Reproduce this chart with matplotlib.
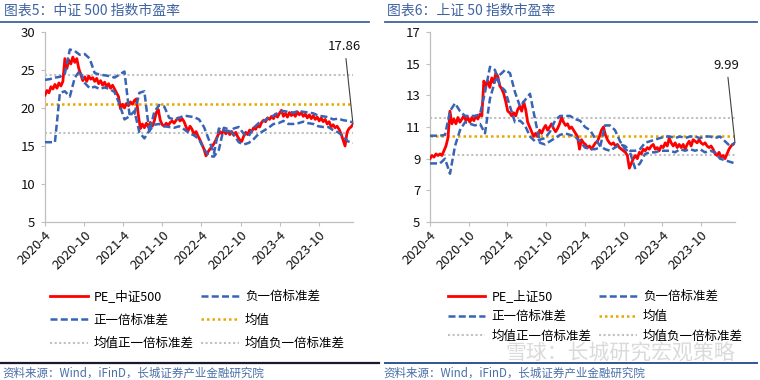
import matplotlib
matplotlib.use("Agg")
import matplotlib.pyplot as plt
from matplotlib.lines import Line2D
import pandas as pd

plt.rcParams['font.family'] = ['Noto Sans CJK SC', 'DejaVu Sans']

# ---------------- data ----------------
start_date = "2020-04-01"
end_date = "2024-03-08"
tick_dates = ["2020-04-01", "2020-10-01", "2021-04-01", "2021-10-01",
              "2022-04-01", "2022-10-01", "2023-04-01", "2023-10-01"]
tick_labels = ["2020-4", "2020-10", "2021-4", "2021-10",
               "2022-4", "2022-10", "2023-4", "2023-10"]

# 中证500
pe_500 = [21.7, 22.3, 22.0, 22.8, 22.5, 23.1, 22.6, 23.3, 22.9, 23.5,
          26.5, 25.2, 26.3, 25.8, 26.7, 26.0, 26.5, 25.2, 24.4, 23.6,
          24.1, 23.5, 24.2, 23.8, 24.0, 23.5, 23.9, 23.2, 23.6, 23.0,
          23.4, 22.8, 23.2, 22.6, 23.0, 22.5, 22.0, 21.5, 19.9, 20.5,
          20.0, 20.6, 20.3, 20.8, 20.5, 21.0, 21.2, 19.0, 17.3, 17.9,
          17.4, 18.0, 17.5, 18.1, 17.6, 18.3, 19.4, 19.8, 18.4, 17.8,
          17.6, 18.0, 17.7, 18.1, 18.3, 18.0, 18.4, 18.7, 18.3, 18.6,
          18.2, 17.5, 17.0, 17.6, 17.2, 16.5, 16.9, 16.3, 15.8, 15.2,
          14.6, 13.7, 14.2, 14.6, 14.9, 15.3, 15.8, 16.4, 16.9, 16.6,
          17.1, 16.6, 17.0, 16.5, 16.9, 16.4, 16.8, 16.2, 15.8, 15.6,
          16.3, 16.8, 16.5, 17.1, 16.9, 17.4, 17.2, 17.7, 17.5, 18.1,
          18.4, 18.2, 18.7, 18.5, 18.9, 18.6, 19.2, 18.8, 19.3, 19.7,
          18.9, 19.3, 18.8, 19.4, 19.0, 19.3, 18.9, 19.5, 19.1, 19.4,
          18.9, 19.2, 18.7, 19.1, 18.6, 19.0, 18.5, 18.8, 18.3, 18.7,
          18.2, 18.5, 17.9, 18.2, 17.5, 17.8, 17.4, 17.6, 17.2, 16.6,
          15.8, 15.0, 16.8, 17.3, 17.5, 17.86]
plus_500 = [23.7, 23.8, 24.0, 24.1, 24.5, 27.7, 27.5, 27.0, 27.1, 26.5,
            24.6, 24.4, 24.3, 24.2, 24.0, 24.4, 24.8, 19.2, 19.2, 22.0,
            22.2, 16.8, 19.5, 20.4, 20.2, 18.7, 18.5, 18.7, 19.0, 18.9,
            18.8, 18.5, 17.5, 15.8, 14.0, 17.3, 17.0, 16.9, 17.3, 17.5,
            16.6, 16.3, 17.4, 18.0, 18.3, 18.7, 19.0, 19.4, 19.6, 19.5,
            19.4, 19.6, 19.5, 19.4, 19.3, 19.0, 18.9, 18.8, 18.5, 18.6,
            18.4, 18.3, 18.1]
minus_500 = [15.5, 15.5, 15.5, 22.0, 22.2, 21.5, 24.0, 24.9, 23.3, 22.6,
             22.8, 22.5, 22.7, 22.5, 22.1, 20.5, 18.5, 18.9, 19.6, 16.8,
             16.0, 17.0, 17.8, 17.9, 17.6, 17.5, 17.4, 17.6, 17.2, 16.7,
             16.4, 15.9, 14.6, 13.7, 13.6, 14.5, 17.4, 17.2, 16.5, 15.5,
             15.2, 15.4, 15.9, 16.6, 17.0, 17.4, 17.9, 18.0, 18.3, 17.9,
             17.9, 18.0, 18.2, 18.0, 17.9, 17.6, 17.5, 17.5, 17.1, 16.8,
             16.3, 15.6, 15.4]
mean_500 = 20.5
mean_plus_500 = 24.34
mean_minus_500 = 16.67
last_500 = "17.86"

# 上证50
pe_50 = [9.0, 9.2, 9.1, 9.3, 9.2, 9.3, 9.2, 9.5, 9.8, 10.3,
         12.0, 11.2, 11.5, 11.2, 11.6, 11.3, 11.5, 11.7, 11.4, 11.6,
         11.3, 11.6, 11.4, 11.7, 11.5, 11.8, 11.7, 13.9, 13.6, 13.9,
         13.5, 14.1, 13.8, 14.4, 14.2, 13.6, 13.4, 13.1, 12.6, 12.0,
         11.9, 11.7, 11.9, 11.7, 12.1, 12.3, 12.0, 12.6, 12.1, 11.3,
         11.0, 10.7, 10.4, 10.6, 10.4, 10.8, 10.6, 10.9, 11.1, 10.8,
         11.0, 11.2, 10.9, 10.7, 10.9, 11.2, 11.6, 11.3, 11.1, 11.2,
         10.9, 11.0, 10.8, 10.6, 10.4, 9.6, 10.2, 10.0, 9.9, 9.7,
         9.8, 9.6, 9.8, 10.0, 10.1, 10.4, 10.8, 11.0, 10.5, 10.2,
         10.0, 9.9, 10.0, 9.8, 9.9, 9.7, 9.6, 9.5, 9.4, 9.2,
         8.4, 8.7, 9.0, 9.2, 9.0, 9.4, 9.3, 9.6, 9.5, 9.7,
         9.6, 9.8, 9.9, 9.6, 9.7, 9.5, 9.8, 9.7, 10.0, 9.8,
         10.3, 10.0, 9.8, 10.0, 9.7, 9.9, 9.7, 9.9, 9.6, 9.9,
         10.1, 9.8, 10.2, 10.1, 10.0, 10.2, 10.0, 9.9, 10.0, 9.8,
         9.7, 9.8, 9.6, 9.3, 9.2, 9.4, 9.1, 9.2, 9.0, 9.3,
         9.6, 9.8, 9.9, 9.99]
plus_50 = [10.45, 10.45, 10.45, 10.5, 12.0, 12.5, 12.0, 11.7, 11.7, 11.7,
           11.8, 13.2, 14.8, 14.6, 13.6, 13.3, 12.3, 11.3, 11.4, 11.1,
           10.4, 10.1, 10.2, 10.3, 10.7, 11.4, 11.7, 11.7, 11.7, 11.5,
           11.4, 11.0, 10.8, 10.3, 9.8, 9.6, 9.5, 9.7, 9.9, 9.8,
           9.5, 9.5, 9.6, 10.0, 10.1, 10.2, 10.3, 10.4, 10.4, 10.3,
           10.4, 10.3, 10.4, 10.4, 10.3, 10.4, 10.4, 10.3, 10.4, 10.1,
           9.8, 10.0]
minus_50 = [8.7, 8.7, 8.7, 9.0, 8.05, 9.8, 10.8, 11.3, 11.2, 11.1,
            11.2, 10.6, 12.8, 13.9, 14.3, 14.6, 14.4, 13.2, 12.3, 12.7,
            13.1, 11.5, 10.0, 9.9, 10.1, 10.3, 10.5, 10.6, 10.5, 10.4,
            10.1, 9.7, 9.6, 9.6, 9.7, 11.1, 11.1, 10.8, 10.1, 9.6,
            9.4, 8.4, 8.7, 9.3, 9.4, 9.4, 9.5, 9.5, 9.5, 9.4,
            9.6, 9.5, 9.6, 9.5, 9.6, 9.4, 9.5, 9.4, 9.0, 8.9,
            8.8, 8.7]
mean_50 = 10.43
mean_plus_50 = 11.60
mean_minus_50 = 9.26
last_50 = "9.99"

# ---------------- style ----------------
RED = "#FF0000"
BLUE = "#3764B4"
GOLD = "#E6A800"
GREY = "#C0C0C0"
TITLE_BLUE = "#3F63A0"
SPINE = "#BFBFBF"
DASH = (0, (2.8, 1.3))
DOT = (0, (1, 1.2))

W, H = 760, 380
fig = plt.figure(figsize=(W / 100, H / 100), dpi=100)


def fx(px):
    return px / W


def fy(py):
    return 1 - py / H


def panel(x0, x1, pe, plus, minus, m, mp, mm, ylim, yticks, name, last_txt):
    ax = fig.add_axes([fx(x0), fy(222), fx(x1 - x0), (222 - 32) / H])
    d0, d1 = pd.Timestamp(start_date), pd.Timestamp(end_date)
    dates_pe = pd.date_range(d0, d1, periods=len(pe))
    dates_b = pd.date_range(d0, d1, periods=len(plus))
    l_pe, = ax.plot(dates_pe, pe, color=RED, lw=2.0, zorder=3)
    l_minus, = ax.plot(dates_b, minus, color=BLUE, lw=1.8, ls=DASH, zorder=4)
    l_plus, = ax.plot(dates_b, plus, color=BLUE, lw=1.8, ls=DASH, zorder=4)
    l_m, = ax.plot([d0, d1], [m, m], color=GOLD, lw=1.8, ls=DOT, zorder=2)
    l_mp, = ax.plot([d0, d1], [mp, mp], color=GREY, lw=1.5, ls=DOT, zorder=2)
    l_mm, = ax.plot([d0, d1], [mm, mm], color=GREY, lw=1.5, ls=DOT, zorder=2)
    ax.set_xlim(d0, d1)
    ax.set_ylim(*ylim)
    ax.set_yticks(yticks)
    ax.set_yticklabels([str(v) for v in yticks])
    ax.set_xticks(pd.to_datetime(tick_dates))
    ax.set_xticklabels(tick_labels, rotation=45, ha="right",
                       rotation_mode="anchor")
    for s in ["top", "right"]:
        ax.spines[s].set_visible(False)
    for s in ["left", "bottom"]:
        ax.spines[s].set_color(SPINE)
        ax.spines[s].set_linewidth(0.9)
    ax.tick_params(axis="both", color=SPINE, length=3, width=0.8,
                   labelsize=9.5, labelcolor="#111111", pad=2)
    ax.tick_params(axis="y", pad=4)
    ax.set_facecolor("none")
    ax.annotate(last_txt, xy=(dates_pe[-1], pe[-1]), xytext=(-6, 56),
                textcoords="offset points", ha="center", va="center",
                fontsize=9.5, color="#111111",
                arrowprops=dict(arrowstyle="-", color="#404040", lw=0.8,
                                shrinkA=2, shrinkB=0))
    handles = [l_pe, l_plus, l_mp, l_minus, l_m, l_mm]
    labels = [name, "正一倍标准差", "均值正一倍标准差",
              "负一倍标准差", "均值", "均值负一倍标准差"]
    return ax, handles, labels


axL, hL, labL = panel(45, 353, pe_500, plus_500, minus_500, mean_500,
                      mean_plus_500, mean_minus_500, (5, 30),
                      [5, 10, 15, 20, 25, 30], "PE_中证500", last_500)
axR, hR, labR = panel(430, 735, pe_50, plus_50, minus_50, mean_50,
                      mean_plus_50, mean_minus_50, (5, 17),
                      [5, 7, 9, 11, 13, 15, 17], "PE_上证50", last_50)

fig.legend(hL, labL, ncol=2, loc="upper left",
           bbox_to_anchor=(fx(50), fy(290)), frameon=False, fontsize=9,
           handlelength=3.0, handletextpad=0.5, columnspacing=0.6,
           labelspacing=0.85, borderpad=0, borderaxespad=0)
fig.legend(hR, labR, ncol=2, loc="upper left",
           bbox_to_anchor=(fx(448), fy(290)), frameon=False, fontsize=9,
           handlelength=3.0, handletextpad=0.5, columnspacing=0.6,
           labelspacing=0.55, borderpad=0, borderaxespad=0)

# titles and rules
fig.text(fx(4), fy(11), "图表5：中证 500 指数市盈率", fontsize=10,
         color=TITLE_BLUE, va="center", ha="left")
fig.text(fx(387), fy(11), "图表6：上证 50 指数市盈率", fontsize=10,
         color=TITLE_BLUE, va="center", ha="left")
fig.add_artist(Line2D([fx(0), fx(369)], [fy(21.5), fy(21.5)],
                      color=TITLE_BLUE, lw=1.3))
fig.add_artist(Line2D([fx(385), fx(757)], [fy(22), fy(22)],
                      color=TITLE_BLUE, lw=1.3))

# watermark
fig.text(fx(505), fy(354), "雪球：长城研究宏观策略", fontsize=15,
         color="#DADADA", va="center", ha="left", zorder=0)

# source rules and text
fig.add_artist(Line2D([fx(0), fx(379)], [fy(363), fy(363)],
                      color="#1A1A2E", lw=1.6))
fig.add_artist(Line2D([fx(385), fx(757)], [fy(363), fy(363)],
                      color="#2F5597", lw=1.4))
src = "资料来源：Wind，iFinD，长城证券产业金融研究院"
fig.text(fx(2), fy(373), src, fontsize=8.3, color="#4A6FA8",
         va="center", ha="left", style="italic")
fig.text(fx(383), fy(373), src, fontsize=8.3, color="#4A6FA8",
         va="center", ha="left", style="italic")

fig.savefig("out.png", dpi=100)
